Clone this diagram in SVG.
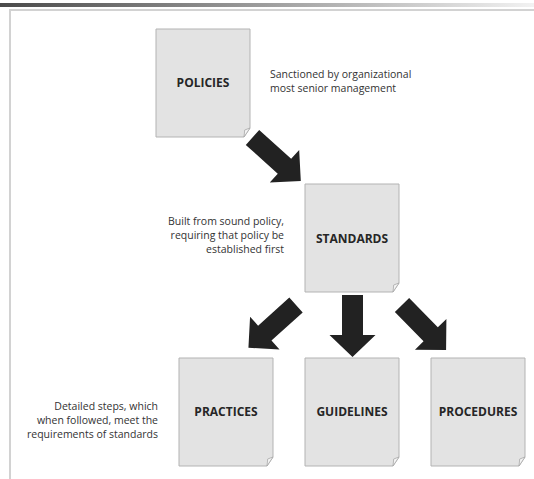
<svg xmlns="http://www.w3.org/2000/svg" xmlns:xlink="http://www.w3.org/1999/xlink" width="534" height="479" viewBox="0 0 534 479">
<defs>
<linearGradient id="bar" x1="0" y1="0" x2="1" y2="0">
<stop offset="0" stop-color="#4a4a4a"/>
<stop offset="1" stop-color="#f2f2f2"/>
</linearGradient>
<g id="doc">
<path class="page" d="M0,0 H94 V99 L88,108 H0 Z"/>
<path class="fold" d="M94,99 L88,108 L88.7,101 Z"/>
</g>
</defs>
<style>
.page{fill:#e3e3e3;stroke:#b3b3b3;stroke-width:1}
.fold{fill:#f4f4f4;stroke:#a8a8a8;stroke-width:0.8}
.lbl{font-family:"Open Sans","Noto Sans",sans-serif;font-weight:bold;font-size:12px;fill:#262626;text-anchor:middle}
.desc{font-family:"Open Sans","Noto Sans",sans-serif;font-size:10.5px;fill:#333}
.arrow{fill:#222}
</style>
<rect width="534" height="479" fill="#fff"/>
<rect x="0" y="3" width="534" height="4" fill="url(#bar)"/>
<path d="M10,479 V10 H534" fill="none" stroke="#d2d2d2" stroke-width="2"/>

<g id="connectors">
<polygon class="arrow" transform="translate(252.5,137.5) rotate(42)" points="0,-10 43,-10 43,-22 65,0 43,22 43,10 0,10"/>
<polygon class="arrow" transform="translate(296,305) rotate(138)" points="0,-10 42,-10 42,-22 64,0 42,22 42,10 0,10"/>
<polygon class="arrow" transform="translate(352.5,295) rotate(90)" points="0,-10.5 40,-10.5 40,-23 62,0 40,23 40,10.5 0,10.5"/>
<polygon class="arrow" transform="translate(402,305) rotate(45.6)" points="0,-10 41,-10 41,-22 63,0 41,22 41,10 0,10"/>
</g>

<g id="policies">
<use xlink:href="#doc" transform="translate(156,29)"/>
<text class="lbl" x="203" y="87">POLICIES</text>
</g>
<g id="standards">
<use xlink:href="#doc" transform="translate(305,184)"/>
<text class="lbl" x="352" y="243">STANDARDS</text>
</g>
<g id="practices">
<use xlink:href="#doc" transform="translate(179,358)"/>
<text class="lbl" x="226" y="416">PRACTICES</text>
</g>
<g id="guidelines">
<use xlink:href="#doc" transform="translate(305,358)"/>
<text class="lbl" x="352" y="416">GUIDELINES</text>
</g>
<g id="procedures">
<use xlink:href="#doc" transform="translate(431,358)"/>
<text class="lbl" x="478" y="416">PROCEDURES</text>
</g>

<g id="notes">
<text class="desc" x="270" y="78">Sanctioned by organizational<tspan x="270" y="92">most senior management</tspan></text>
<text class="desc" text-anchor="end" x="284" y="225">Built from sound policy,<tspan x="284" y="239">requiring that policy be</tspan><tspan x="284" y="253">established first</tspan></text>
<text class="desc" text-anchor="end" x="158" y="410">Detailed steps, which<tspan x="158" y="424">when followed, meet the</tspan><tspan x="158" y="438">requirements of standards</tspan></text>
</g>
</svg>
